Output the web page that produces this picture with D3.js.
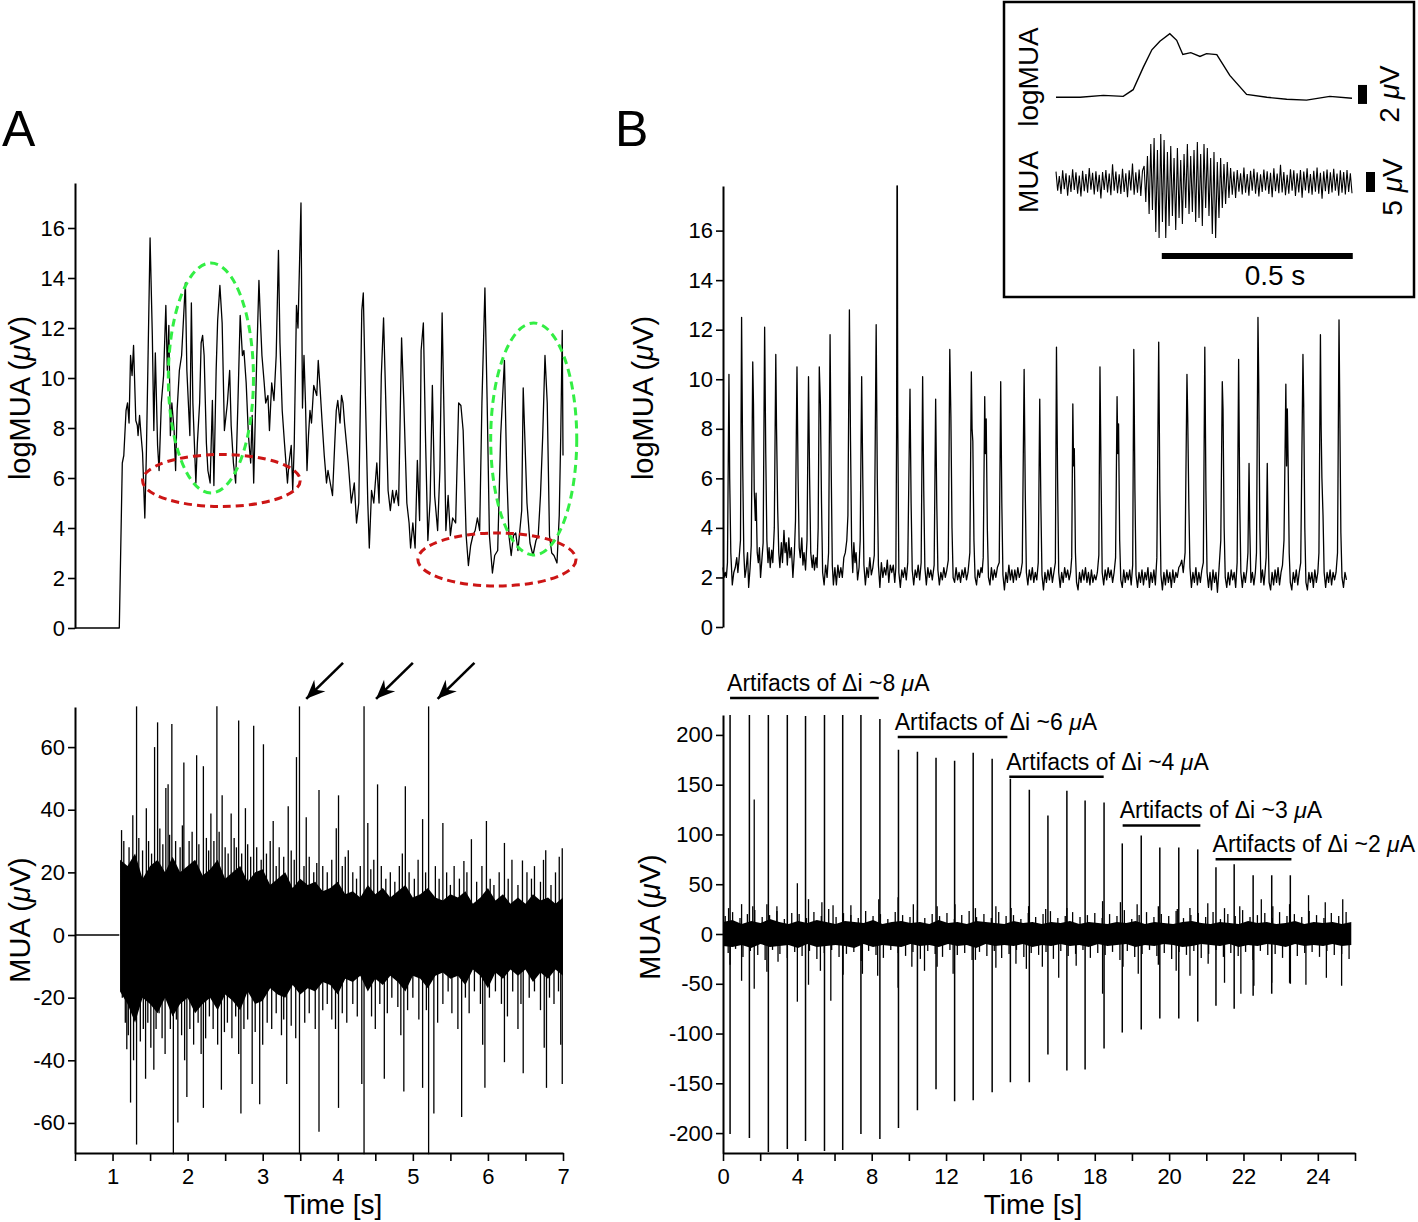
<!DOCTYPE html>
<html>
<head>
<meta charset="utf-8">
<script src="https://cdn.jsdelivr.net/npm/d3@7"></script>
<style>
  body { margin: 0; background: #fff; }
  text { font-family: "Liberation Sans", Arial, Helvetica, sans-serif; fill: #000; }
</style>
</head>
<body>
<svg width="1418" height="1222"></svg>
<script>
// ---------- data ----------

// panel A, logMUA trace [time s, uV]
var aLog = [[0.5,0],[1.09,0],[1.13,6.6],[1.15,6.9],[1.18,8.7],[1.20,9.0],[1.22,8.2],[1.24,10.9],[1.26,10.1],[1.28,11.3],[1.31,8.3],[1.33,8.1],[1.34,7.7],[1.36,8.5],[1.38,7.7],[1.40,7.0],[1.43,4.4],[1.45,6.9],[1.47,10.3],[1.50,15.6],[1.53,11.7],[1.55,7.9],[1.57,11.0],[1.60,7.3],[1.62,6.3],[1.65,9.0],[1.68,10.1],[1.71,12.9],[1.73,10.3],[1.75,12.1],[1.77,7.7],[1.79,9.0],[1.82,7.9],[1.84,6.3],[1.86,8.7],[1.89,10.3],[1.92,10.9],[1.97,13.8],[1.99,10.3],[2.01,9.0],[2.03,7.7],[2.05,13.0],[2.07,9.0],[2.11,5.8],[2.13,7.4],[2.16,9.0],[2.18,11.4],[2.20,11.7],[2.22,10.9],[2.25,7.4],[2.27,6.3],[2.30,5.8],[2.33,9.1],[2.35,5.7],[2.38,10.3],[2.40,12.3],[2.43,13.7],[2.46,12.2],[2.49,7.9],[2.53,9.0],[2.56,10.3],[2.58,8.1],[2.61,6.6],[2.64,5.8],[2.67,9.0],[2.70,12.5],[2.73,10.9],[2.75,11.1],[2.78,9.8],[2.81,7.7],[2.84,6.6],[2.86,8.5],[2.88,5.8],[2.92,10.7],[2.95,13.9],[2.97,12.3],[2.99,10.9],[3.02,9.8],[3.04,9.0],[3.07,9.3],[3.09,7.9],[3.12,9.8],[3.15,9.1],[3.18,10.9],[3.21,15.1],[3.23,11.4],[3.26,8.7],[3.29,7.4],[3.33,5.8],[3.35,6.6],[3.38,7.3],[3.40,5.5],[3.42,7.3],[3.45,12.9],[3.47,12.0],[3.51,17.0],[3.53,8.8],[3.55,10.9],[3.57,9.0],[3.59,6.3],[3.61,7.7],[3.63,8.7],[3.65,8.2],[3.68,9.7],[3.72,9.3],[3.74,10.7],[3.76,9.8],[3.79,8.3],[3.82,6.9],[3.85,5.8],[3.87,6.3],[3.90,5.8],[3.93,5.3],[3.96,7.4],[3.98,8.7],[4.00,9.1],[4.03,8.2],[4.05,9.3],[4.07,9.0],[4.09,8.2],[4.14,6.6],[4.18,5.0],[4.22,5.8],[4.25,4.2],[4.28,5.0],[4.32,12.7],[4.34,13.4],[4.37,9.0],[4.40,5.0],[4.42,3.2],[4.45,5.5],[4.48,5.0],[4.52,6.6],[4.55,5.0],[4.58,10.1],[4.61,12.4],[4.64,9.0],[4.67,5.5],[4.70,4.7],[4.73,5.5],[4.75,5.0],[4.78,5.5],[4.81,4.9],[4.85,11.6],[4.88,9.0],[4.92,5.0],[4.95,4.2],[4.97,3.2],[5.00,4.2],[5.03,3.2],[5.06,6.7],[5.09,4.3],[5.11,11.1],[5.14,12.2],[5.17,7.4],[5.20,3.5],[5.23,5.1],[5.26,9.7],[5.29,5.3],[5.33,3.9],[5.36,6.3],[5.39,12.6],[5.42,7.7],[5.44,3.9],[5.47,5.3],[5.50,3.7],[5.53,4.4],[5.57,4.2],[5.61,9.0],[5.64,8.9],[5.67,7.9],[5.71,3.7],[5.74,2.5],[5.77,3.3],[5.80,3.7],[5.83,3.9],[5.86,4.4],[5.89,3.9],[5.92,9.0],[5.96,13.6],[5.99,9.0],[6.02,3.7],[6.06,2.2],[6.09,2.9],[6.13,3.1],[6.17,7.7],[6.22,10.7],[6.25,6.3],[6.28,3.7],[6.31,2.9],[6.34,3.7],[6.37,3.8],[6.40,3.1],[6.45,4.7],[6.47,9.6],[6.52,5.0],[6.56,3.4],[6.60,2.9],[6.64,3.5],[6.67,3.7],[6.70,5.3],[6.73,7.7],[6.76,10.9],[6.79,9.0],[6.82,3.7],[6.85,3.0],[6.88,2.9],[6.92,2.6],[6.95,4.5],[6.97,7.7],[6.99,11.9],[7.0,6.9]];

// dashed ellipses on panel A top: centre t, centre v, radius t, radius v
var ellCx = [2.31, 2.45, 6.61, 6.12];
var ellCy = [10.0, 5.9, 7.56, 2.74];
var ellRx = [0.567, 1.05, 0.573, 1.053];
var ellRy = [4.6, 1.04, 4.64, 1.06];
var ellColor = ["#33ee44", "#cc1515", "#33ee44", "#cc1515"];

// panel A, MUA: dense core envelope from 1.1 s every 0.1 s
var aCoreStart = 1.1, aCoreStep = 0.1;
var aCoreHi = [24,22,26,18,22,24,20,25,20,22, 24,19,21,24,18,20,22,17,20,21, 16,18,20,15,18,16,17,14,15,17, 13,14,12,16,13,15,12,14,16,12, 13,15,12,11,13,12,14,10,12,15, 11,13,10,12,10,13,11,12,10,12];
var aCoreLo = [-18,-22,-28,-20,-22,-25,-20,-26,-22,-20, -25,-22,-20,-24,-19,-21,-24,-18,-22,-21, -17,-19,-20,-16,-19,-17,-18,-15,-16,-19, -14,-15,-13,-18,-14,-16,-13,-15,-18,-13, -14,-17,-13,-12,-14,-13,-16,-11,-13,-17, -12,-14,-11,-13,-11,-15,-12,-14,-11,-13];
// panel A, MUA spikes [t, uV]
var aUp = [[1.12,33.5],[1.15,30],[1.22,28],[1.27,38.2],[1.30,25],[1.32,73],[1.35,31],[1.40,27],[1.45,40.5],[1.48,30],[1.52,26],[1.56,60],[1.60,67.9],[1.63,34],[1.67,29],[1.71,46.9],[1.74,48.1],[1.76,32],[1.79,67.4],[1.84,30],[1.90,28],[1.93,35],[1.95,55.1],[2.02,30],[2.06,33],[2.12,57.4],[2.15,29],[2.21,53.9],[2.25,31],[2.28,27],[2.31,38.8],[2.35,30],[2.39,73],[2.42,33],[2.46,44.6],[2.50,28],[2.54,26],[2.58,38.8],[2.62,31],[2.65,28],[2.68,68.5],[2.72,26],[2.77,40.5],[2.80,29],[2.84,25],[2.88,66.8],[2.92,28],[2.98,24],[3.01,60.9],[3.05,26],[3.10,30],[3.14,36.4],[3.18,22],[3.22,28],[3.28,25],[3.34,41.1],[3.38,27],[3.42,24],[3.45,56.8],[3.49,73],[3.55,22],[3.58,37.6],[3.62,25],[3.68,20],[3.72,23],[3.75,46.3],[3.80,22],[3.86,20],[3.92,24],[3.98,34.1],[4.01,44.6],[4.06,22],[4.10,25],[4.14,27.1],[4.20,20],[4.25,18],[4.30,22],[4.35,73],[4.40,35.8],[4.44,21],[4.48,24],[4.53,48.1],[4.58,22],[4.64,18],[4.70,20],[4.76,17],[4.82,22],[4.86,26],[4.90,47.5],[4.95,20],[5.02,18],[5.07,24],[5.13,37.0],[5.17,20],[5.21,73],[5.30,22],[5.35,18],[5.40,35.8],[5.45,20],[5.50,16],[5.55,22],[5.62,18],[5.68,23.6],[5.72,20],[5.78,30.6],[5.85,17],[5.92,22],[5.98,36.4],[6.03,18],[6.08,16],[6.15,20],[6.22,29.4],[6.27,18],[6.32,24],[6.40,16],[6.46,23.8],[6.52,20],[6.58,18],[6.62,22],[6.70,17],[6.74,24],[6.77,27.1],[6.84,16],[6.90,20],[6.95,25],[6.99,27.7]];
var aDown = [[1.13,-20],[1.17,-28],[1.19,-36.5],[1.21,-32],[1.24,-53.5],[1.28,-40],[1.32,-66.9],[1.37,-34],[1.41,-30],[1.44,-45.9],[1.47,-28],[1.51,-36],[1.55,-43],[1.58,-30],[1.62,-25],[1.66,-33],[1.70,-38],[1.77,-30],[1.81,-70],[1.85,-27],[1.87,-59.9],[1.92,-32],[1.96,-40],[1.99,-51.7],[2.03,-30],[2.08,-35],[2.14,-28],[2.18,-38],[2.21,-55.2],[2.24,-33],[2.29,-26],[2.34,-30],[2.40,-35],[2.45,-49.4],[2.49,-31],[2.53,-28],[2.59,-33],[2.64,-26],[2.68,-38],[2.71,-57],[2.75,-30],[2.80,-27],[2.86,-47.6],[2.90,-31],[2.96,-54],[3.00,-35],[3.06,-28],[3.12,-30],[3.18,-25],[3.25,-32],[3.28,-27],[3.32,-47.6],[3.38,-29],[3.44,-33],[3.49,-70],[3.56,-28],[3.62,-25],[3.70,-30],[3.75,-62.8],[3.80,-24],[3.86,-22],[3.92,-27],[3.97,-30],[4.01,-55.2],[4.06,-25],[4.12,-28],[4.20,-22],[4.26,-26],[4.32,-47.6],[4.35,-70],[4.45,-26],[4.50,-30],[4.56,-22],[4.62,-45.9],[4.66,-25],[4.72,-20],[4.80,-23],[4.84,-32],[4.88,-50],[4.93,-24],[5.00,-20],[5.08,-27],[5.13,-48.8],[5.18,-24],[5.21,-70],[5.28,-57],[5.33,-28],[5.40,-22],[5.47,-18],[5.52,-25],[5.60,-30],[5.65,-58.1],[5.70,-20],[5.75,-25],[5.82,-18],[5.90,-22],[5.93,-35],[5.96,-48.8],[6.02,-20],[6.10,-18],[6.18,-22],[6.22,-40.6],[6.26,-26],[6.33,-18],[6.40,-30],[6.44,-22],[6.47,-44.1],[6.55,-20],[6.62,-18],[6.70,-24],[6.75,-36],[6.78,-48.8],[6.82,-20],[6.88,-22],[6.94,-18],[6.97,-35],[6.99,-47.6]];
var arrowTipT = [3.58, 4.51, 5.33];

// panel A axes
var aTicks = [0.5,1,1.5,2,2.5,3,3.5,4,4.5,5,5.5,6,6.5,7];
var aLogTicks = [0,2,4,6,8,10,12,14,16];
var aMuaTicks = [-60,-40,-20,0,20,40,60];

// panel B, logMUA trace [x position in axis ticks, uV]
var bLog = [[0.0,2.4],[0.03,2.0],[0.06,2.2],[0.09,2.0],[0.12,2.6],[0.16,10.2],[0.18,6.0],[0.21,3.0],[0.25,1.7],[0.29,2.2],[0.33,2.4],[0.37,2.8],[0.40,2.2],[0.43,2.7],[0.47,3.5],[0.50,12.5],[0.53,6.5],[0.56,3.0],[0.59,2.0],[0.62,2.3],[0.66,3.0],[0.69,1.6],[0.73,2.4],[0.76,3.3],[0.80,10.7],[0.82,9.0],[0.84,5.5],[0.87,4.3],[0.89,5.4],[0.92,3.0],[0.95,2.6],[0.98,3.2],[1.01,2.0],[1.05,2.8],[1.08,3.4],[1.12,12.1],[1.15,7.0],[1.18,3.5],[1.21,2.6],[1.24,3.2],[1.27,2.4],[1.31,3.1],[1.34,2.6],[1.38,4.0],[1.42,11.0],[1.44,8.0],[1.47,4.8],[1.50,3.0],[1.53,2.4],[1.57,3.4],[1.60,2.6],[1.64,3.9],[1.67,3.0],[1.70,3.4],[1.73,2.5],[1.77,3.6],[1.80,2.8],[1.84,3.2],[1.88,2.0],[1.92,3.0],[1.95,4.3],[1.99,10.5],[2.02,6.0],[2.05,3.2],[2.08,2.8],[2.12,3.6],[2.15,2.5],[2.18,3.0],[2.22,2.3],[2.26,3.5],[2.30,10.1],[2.33,6.0],[2.36,3.0],[2.40,2.4],[2.43,2.9],[2.46,2.3],[2.50,2.8],[2.53,2.4],[2.56,4.0],[2.59,10.5],[2.62,9.0],[2.65,5.0],[2.68,2.2],[2.72,1.7],[2.76,2.5],[2.80,2.0],[2.84,3.0],[2.88,11.8],[2.91,6.5],[2.94,2.5],[2.97,1.7],[3.01,2.4],[3.05,1.7],[3.09,2.5],[3.13,2.0],[3.17,2.4],[3.21,2.0],[3.25,2.8],[3.29,3.0],[3.33,3.5],[3.36,4.5],[3.40,12.8],[3.43,7.5],[3.46,3.3],[3.49,2.2],[3.52,3.4],[3.55,2.6],[3.58,3.0],[3.62,1.9],[3.66,2.4],[3.69,3.5],[3.73,10.1],[3.76,6.0],[3.79,2.5],[3.83,1.7],[3.87,2.4],[3.91,2.0],[3.95,2.8],[3.99,2.1],[4.03,2.4],[4.07,2.9],[4.12,12.2],[4.15,6.0],[4.18,2.5],[4.22,1.6],[4.26,2.6],[4.30,2.0],[4.34,2.4],[4.38,2.1],[4.42,2.7],[4.46,1.8],[4.50,2.5],[4.54,2.2],[4.58,2.5],[4.62,1.8],[4.65,2.4],[4.67,8.0],[4.68,17.8],[4.69,17.8],[4.70,8.5],[4.73,2.2],[4.77,1.6],[4.81,2.3],[4.85,2.0],[4.89,2.4],[4.93,1.9],[4.97,2.6],[5.03,9.6],[5.06,5.0],[5.09,2.3],[5.13,1.7],[5.17,2.3],[5.21,2.0],[5.25,2.5],[5.29,1.9],[5.33,2.6],[5.37,10.1],[5.40,5.5],[5.43,2.4],[5.47,1.7],[5.51,2.4],[5.55,2.0],[5.59,2.3],[5.63,1.9],[5.68,2.5],[5.72,9.2],[5.75,5.0],[5.78,2.3],[5.82,1.7],[5.86,2.2],[5.90,1.9],[5.94,2.4],[5.98,2.0],[6.02,2.3],[6.06,2.7],[6.10,11.2],[6.13,8.5],[6.16,4.0],[6.19,2.0],[6.23,1.8],[6.27,2.4],[6.31,1.9],[6.35,2.2],[6.39,1.8],[6.43,2.3],[6.47,2.0],[6.51,2.4],[6.55,1.9],[6.59,2.2],[6.64,3.0],[6.68,10.3],[6.70,8.0],[6.72,7.5],[6.75,3.5],[6.78,2.0],[6.82,1.7],[6.86,2.3],[6.90,2.0],[6.94,2.4],[6.97,2.2],[7.00,2.8],[7.04,9.3],[7.06,7.0],[7.08,8.4],[7.11,4.0],[7.14,2.0],[7.18,1.7],[7.22,2.4],[7.26,1.9],[7.30,2.3],[7.34,2.0],[7.38,2.4],[7.43,2.6],[7.47,9.9],[7.50,5.0],[7.53,2.1],[7.57,1.5],[7.61,2.2],[7.65,1.8],[7.69,2.5],[7.73,1.9],[7.77,2.3],[7.81,1.8],[7.85,2.3],[7.89,1.9],[7.93,2.4],[7.97,2.0],[8.01,2.2],[8.05,2.6],[8.10,10.4],[8.13,5.5],[8.16,2.2],[8.20,1.7],[8.24,2.3],[8.28,1.9],[8.32,2.4],[8.36,1.8],[8.40,2.2],[8.44,1.9],[8.48,2.6],[8.52,9.2],[8.55,5.0],[8.58,2.1],[8.62,1.5],[8.66,2.2],[8.70,1.8],[8.74,2.3],[8.78,1.9],[8.82,2.4],[8.86,1.8],[8.90,2.2],[8.94,2.6],[8.97,11.3],[9.00,6.0],[9.03,2.2],[9.07,1.6],[9.11,2.2],[9.15,1.8],[9.19,2.4],[9.23,2.0],[9.27,2.3],[9.31,1.9],[9.35,2.2],[9.38,2.8],[9.41,9.0],[9.43,6.5],[9.45,7.2],[9.48,3.0],[9.51,1.8],[9.55,1.5],[9.59,2.2],[9.63,1.8],[9.67,2.3],[9.71,1.9],[9.75,2.4],[9.79,1.8],[9.83,2.2],[9.87,1.7],[9.91,2.3],[9.95,1.8],[9.99,2.1],[10.03,1.9],[10.07,2.2],[10.11,2.9],[10.14,10.5],[10.17,6.0],[10.20,2.2],[10.24,1.7],[10.28,2.3],[10.32,1.9],[10.36,2.4],[10.40,2.0],[10.44,2.3],[10.48,1.8],[10.52,2.2],[10.56,2.8],[10.60,9.3],[10.62,7.0],[10.64,8.2],[10.67,3.5],[10.70,1.9],[10.74,1.6],[10.78,2.3],[10.82,1.8],[10.86,2.2],[10.90,1.9],[10.94,2.3],[10.98,1.7],[11.02,2.5],[11.05,11.2],[11.08,5.5],[11.11,2.1],[11.15,1.6],[11.19,2.2],[11.23,1.8],[11.27,2.3],[11.31,1.7],[11.35,2.2],[11.39,1.9],[11.43,2.4],[11.47,1.6],[11.51,2.2],[11.55,1.8],[11.59,2.3],[11.63,1.7],[11.67,2.8],[11.72,11.5],[11.75,5.5],[11.78,2.1],[11.82,1.5],[11.86,2.2],[11.90,1.7],[11.94,2.3],[11.98,1.8],[12.02,2.2],[12.06,1.6],[12.10,2.3],[12.14,1.8],[12.18,2.2],[12.22,2.0],[12.26,2.4],[12.30,2.5],[12.34,2.7],[12.38,2.2],[12.43,3.0],[12.48,10.2],[12.50,8.5],[12.53,5.0],[12.56,2.4],[12.60,1.6],[12.64,2.2],[12.68,1.8],[12.72,2.4],[12.76,1.7],[12.80,2.2],[12.84,1.8],[12.88,2.3],[12.92,2.6],[12.96,11.3],[12.99,5.5],[13.02,2.2],[13.06,1.6],[13.10,2.2],[13.14,1.5],[13.18,2.3],[13.22,1.8],[13.26,2.2],[13.30,1.4],[13.34,2.3],[13.39,3.5],[13.43,9.9],[13.45,8.8],[13.48,4.0],[13.51,2.0],[13.55,1.6],[13.59,2.2],[13.63,1.7],[13.67,2.3],[13.71,1.9],[13.75,2.2],[13.79,1.6],[13.83,2.6],[13.87,10.8],[13.90,5.0],[13.93,2.2],[13.97,1.6],[14.01,2.2],[14.05,1.8],[14.09,2.3],[14.12,3.0],[14.15,6.6],[14.17,4.0],[14.20,1.8],[14.24,2.2],[14.28,1.7],[14.32,2.2],[14.35,3.0],[14.39,12.5],[14.41,10.0],[14.44,4.0],[14.47,1.8],[14.51,2.3],[14.55,1.7],[14.58,2.2],[14.61,2.8],[14.64,6.6],[14.66,4.0],[14.69,1.8],[14.73,1.5],[14.77,2.2],[14.81,1.7],[14.85,2.3],[14.89,1.8],[14.93,2.4],[14.97,1.7],[15.01,2.2],[15.05,2.5],[15.09,3.5],[15.14,9.8],[15.16,6.5],[15.18,8.8],[15.20,6.8],[15.23,3.0],[15.26,1.8],[15.30,1.5],[15.34,2.2],[15.38,1.8],[15.42,2.3],[15.46,1.7],[15.50,2.2],[15.54,2.6],[15.60,11.0],[15.62,9.0],[15.65,4.0],[15.68,1.8],[15.72,1.5],[15.76,2.2],[15.80,1.8],[15.84,2.2],[15.88,1.6],[15.92,2.3],[15.96,1.8],[16.00,2.2],[16.03,3.0],[16.07,11.8],[16.09,8.0],[16.11,6.0],[16.14,4.5],[16.17,2.2],[16.21,1.6],[16.25,2.2],[16.29,1.8],[16.33,2.3],[16.37,1.7],[16.41,2.2],[16.45,1.9],[16.49,2.2],[16.53,3.0],[16.57,12.4],[16.59,9.0],[16.62,3.8],[16.65,2.0],[16.69,1.6],[16.73,2.2],[16.77,1.9]];

// panel B, MUA: stimulation artifacts [pos, top uV, bottom uV]
var bArtifacts = [[0.19,220,-201],[0.71,220,-205],[1.22,220,-219],[1.73,220,-216],[2.22,219,-208],[2.73,220,-218],[3.22,220,-217],[3.71,220,-201],[4.22,216,-206],[4.72,185,-195],[5.23,183,-177],[5.73,177,-156],[6.23,174,-168],[6.73,182,-167],[7.24,176,-159],[7.73,156,-149],[8.24,145,-149],[8.74,119,-121],[9.25,144,-137],[9.74,134,-136],[10.25,132,-115],[10.74,91,-99],[11.25,99,-96],[11.75,87,-85],[12.26,87,-85],[12.77,85,-88],[13.26,67,-72],[13.75,70,-75],[14.26,59,-62],[14.76,59,-60],[15.26,59,-50]];
var bBurstUp = [[0.15,26],[0.50,30],[0.80,28],[0.84,135],[1.18,30],[1.45,28],[2.00,51],[2.30,35],[2.66,32],[2.96,29],[3.44,29],[4.19,35],[4.71,37],[5.12,30],[5.76,28],[6.24,30],[6.79,26],[7.34,28],[7.75,26],[8.22,28],[8.68,25],[9.25,26],[10.21,33],[10.69,32],[11.14,30],[11.71,28],[12.22,25],[12.56,26],[13.04,31],[13.49,26],[13.90,28],[14.48,35],[14.79,28],[15.24,30],[15.75,39],[16.20,32],[16.67,35]];
var bBurstDown = [[0.19,-31],[0.50,-47],[0.84,-55],[1.18,-38],[1.48,-28],[2.00,-68],[2.30,-51],[2.62,-37],[2.90,-67],[3.23,-41],[3.75,-40],[4.16,-42],[4.71,-54],[5.08,-33],[5.42,-37],[5.76,-33],[6.19,-40],[6.79,-26],[7.34,-34],[7.88,-30],[8.16,-35],[8.59,-33],[9.03,-44],[9.50,-32],[10.21,-60],[10.76,-33],[11.17,-40],[11.71,-31],[12.19,-37],[12.56,-42],[13.05,-30],[13.49,-49],[13.93,-60],[14.28,-52],[14.76,-49],[15.24,-49],[15.68,-51],[16.23,-44],[16.64,-52]];
// dense core of panel B MUA, sampled evenly over the record
var bCoreEnd = 16.9;
var bCoreHi = [12,14,10,13,11,15,12,10,13,11, 14,12,10,13,12,11,14,10,12,13, 11,12,10,14,11,12,10,13,12,11, 10,13,11,12,10,12,11,13,10,12, 11,10,12,11,13,10,12,11,10,12, 13,11,10,12,11,10,13,11,12,10, 11,13,10,12,11,12,10,12];
var bCoreLo = [-12,-13,-11,-14,-10,-13,-12,-11,-14,-10, -13,-12,-11,-12,-14,-10,-13,-11,-12,-13, -10,-12,-11,-13,-10,-12,-11,-14,-10,-12, -11,-12,-10,-13,-11,-12,-10,-12,-11,-13, -10,-12,-11,-10,-13,-11,-12,-10,-11,-13, -12,-10,-11,-12,-10,-13,-11,-12,-10,-11, -13,-10,-12,-11,-12,-10,-12,-11];
// small noise excursions above / below the core, sampled evenly
var bNoiseUp = [18,22,16,20,24,17,19,23,15,21, 20,16,22,18,25,17,21,19,16,23, 18,20,15,22,19,17,24,16,20,18, 21,15,19,23,17,20,16,22,18,19, 15,21,17,20,23,16,18,22,17,19, 21,16,20,18,24,15,19,22,17,20, 18,23,16,19,21,17,22,15,20,18, 24,17,19,21,16,22,18,20,17,23, 19,16,21,18,22];
var bNoiseDown = [-19,-15,-23,-17,-21,-26,-16,-20,-24,-18, -22,-17,-25,-19,-16,-23,-20,-18,-27,-17, -21,-24,-16,-19,-22,-18,-25,-17,-20,-23, -16,-21,-19,-26,-18,-22,-17,-24,-20,-16, -23,-19,-21,-18,-25,-17,-22,-20,-16,-24, -19,-21,-18,-26,-17,-23,-20,-16,-22,-19, -25,-18,-21,-17,-24,-20,-16,-23,-19,-22, -18,-26,-17,-21,-20,-24,-16,-22,-19,-18, -23,-17,-21,-20,-25];

// artifact groups
var groupLabels = ["~8", "~6", "~4", "~3", "~2"];
var groupStart = [0.19, 4.70, 7.70, 10.75, 13.25];
var groupEnd = [4.19, 7.65, 10.24, 12.84, 15.29];
var groupLevel = [237, 198, 158, 109, 75];

// panel B axes
var bTickPos = [0,1,2,3,4,5,6,7,8,9,10,11,12,13,14,15,16,17];
var bTickLabels = ["0","4","8","12","16","18","20","22","24"];
var bLogTicks = [0,2,4,6,8,10,12,14,16];
var bMuaTicks = [-200,-150,-100,-50,0,50,100,150,200];

// inset: logMUA [s, uV] and MUA samples (uV, even sampling)
var insetLog = [[0,2.0],[0.063,2.0],[0.124,2.2],[0.176,2.1],[0.202,2.8],[0.229,5.2],[0.251,7.0],[0.272,7.9],[0.298,8.7],[0.316,8.0],[0.332,6.5],[0.353,6.7],[0.377,6.3],[0.394,6.6],[0.421,6.5],[0.455,4.3],[0.499,2.3],[0.552,2.0],[0.604,1.8],[0.656,1.7],[0.717,2.1],[0.775,1.9]];
var insetDur = 0.775;
var insetMua = [2.6,-2.2,1.5,-3.0,2.9,-1.8,2.2,-3.4,1.7,-2.5,3.2,-2.0,2.4,-2.9,1.6,-3.6,2.8,-2.3,2.0,-2.7,3.5,-1.9,2.3,-3.1,2.7,-2.4,1.8,-4.1,2.5,-2.0,3.0,-2.6,2.1,-3.3,4.4,-2.2,2.6,-2.8,1.9,-3.0,3.3,-2.5,2.2,-3.8,2.9,-2.1,4.6,-3.2,2.4,-2.7,3.1,-3.5,2.8,
  4.0,-5.0,6.5,-8.0,9.5,-7.0,11.0,-12.5,8.0,-14.0,12.0,-10.0,10.5,-14.0,7.5,-11.0,9.0,-8.5,6.0,-12.0,8.5,-9.0,5.5,-10.5,7.0,-6.5,9.5,-8.0,6.5,-7.5,8.0,-10.0,10.0,-9.0,7.0,-11.0,9.5,-6.5,8.5,-8.5,6.0,-13.0,7.5,-14.0,5.0,-9.0,6.0,-6.5,4.5,-5.5,5.0,-4.0,
  3.5,-3.2,2.6,-4.0,3.0,-2.4,2.2,-3.1,3.6,-2.7,2.0,-3.4,2.8,-2.2,3.3,-2.9,2.4,-3.6,1.9,-2.5,3.1,-2.1,2.7,-3.0,2.3,-3.8,3.4,-2.3,2.1,-2.8,4.3,-2.6,2.5,-3.3,1.8,-2.9,3.2,-2.2,2.9,-3.5,2.2,-2.6,3.0,-3.9,2.6,-2.1,3.4,-2.8,2.0,-3.2,2.8,-2.4,3.6,-2.9,2.3,-4.2,2.7,-2.3,3.1,-3.0,2.4,-2.6,3.3,-2.2,2.1,-3.4,2.9,-2.7,2.5,-3.1,3.0,-2.5,2.2,-2.8];

// ---------- layout ----------
var svg = d3.select("svg");
var font = "'Liberation Sans', Arial, Helvetica, sans-serif";

var xA = d3.scaleLinear().domain([0.5, 7]).range([75, 563]);
var yAtop = d3.scaleLinear().domain([0, 17.8]).range([628, 183]);
var yAbot = d3.scaleLinear().domain([-69.6, 72.8]).range([1153, 707]);
var xB = d3.scaleLinear().domain([0, 17]).range([723, 1355]);
var yBtop = d3.scaleLinear().domain([0, 17.8]).range([627, 186]);
var yBbot = d3.scaleLinear().domain([-220, 220]).range([1153, 715]);

function styleAxis(g){
  g.attr("font-size", 22).attr("font-family", font);
  g.select(".domain").attr("stroke-width", 2);
  g.selectAll(".tick line").attr("stroke-width", 1.6);
  g.selectAll(".tick text").attr("fill", "#000");
}

function yTitle(x, y, label){
  var t = svg.append("text")
    .attr("transform", "translate(" + x + "," + y + ") rotate(-90)")
    .attr("text-anchor", "middle")
    .style("font-size", "29px");
  t.append("tspan").text(label + " (");
  t.append("tspan").style("font-style", "italic").text("\u03bc");
  t.append("tspan").text("V)");
}

function spikes(g, data, x, y){
  g.append("g").selectAll("line")
    .data(data)
    .join("line")
      .attr("x1", d => x(d[0])).attr("x2", d => x(d[0]))
      .attr("y1", y(0)).attr("y2", d => y(d[1]))
      .attr("stroke", "#000").attr("stroke-width", 1.3);
}

// panel letters
svg.append("text").attr("x", 2).attr("y", 146).style("font-size", "50px").text("A");
svg.append("text").attr("x", 615).attr("y", 146).style("font-size", "50px").text("B");

// ----- panel A top -----
svg.append("g")
    .attr("transform", "translate(75,0)")
    .call(d3.axisLeft(yAtop).tickValues(aLogTicks).tickSize(7).tickSizeOuter(0).tickPadding(3))
    .call(styleAxis);

svg.append("path")
    .datum(aLog)
    .attr("fill", "none")
    .attr("stroke", "#000")
    .attr("stroke-width", 1.3)
    .attr("stroke-linejoin", "round")
    .attr("d", d3.line().x(d => xA(d[0])).y(d => yAtop(d[1])));

svg.append("g").selectAll("ellipse")
  .data(ellCx)
  .join("ellipse")
    .attr("cx", d => xA(d))
    .attr("cy", (d, i) => yAtop(ellCy[i]))
    .attr("rx", (d, i) => xA(ellCx[i] + ellRx[i]) - xA(ellCx[i]))
    .attr("ry", (d, i) => yAtop(ellCy[i] - ellRy[i]) - yAtop(ellCy[i]))
    .attr("fill", "none")
    .attr("stroke", (d, i) => ellColor[i])
    .attr("stroke-width", 3)
    .attr("stroke-dasharray", "8,5");

yTitle(30, 398, "logMUA");

// ----- panel A bottom -----
svg.append("g")
    .attr("transform", "translate(75,0)")
    .call(d3.axisLeft(yAbot).tickValues(aMuaTicks).tickSize(7).tickSizeOuter(0).tickPadding(3).tickFormat(d => String(d)))
    .call(styleAxis);

svg.append("g")
    .attr("transform", "translate(0,1153)")
    .call(d3.axisBottom(xA).tickValues(aTicks).tickSize(8).tickSizeOuter(0).tickPadding(7)
            .tickFormat(d => Number.isInteger(d) ? String(d) : ""))
    .call(styleAxis);

var aMua = svg.append("g");
aMua.append("line")
    .attr("x1", xA(0.5)).attr("x2", xA(1.09))
    .attr("y1", yAbot(0)).attr("y2", yAbot(0))
    .attr("stroke", "#000").attr("stroke-width", 1.3);

aMua.append("path")
    .datum(aCoreHi.map((v, i) => [aCoreStart + i * aCoreStep, v, aCoreLo[i]]))
    .attr("fill", "#000")
    .attr("d", d3.area().x(d => xA(d[0])).y0(d => yAbot(d[2])).y1(d => yAbot(d[1])));

spikes(aMua, aUp, xA, yAbot);
spikes(aMua, aDown, xA, yAbot);

// arrows
var defs = svg.append("defs");
defs.append("marker")
    .attr("id", "head")
    .attr("markerUnits", "userSpaceOnUse")
    .attr("viewBox", "-20 -10 22 20")
    .attr("refX", 0).attr("refY", 0)
    .attr("markerWidth", 22).attr("markerHeight", 20)
    .attr("orient", "auto")
  .append("path")
    .attr("d", "M0,0 L-19,-8 L-13,0 L-19,8 Z")
    .attr("fill", "#000");

svg.append("g").selectAll("line")
  .data(arrowTipT)
  .join("line")
    .attr("x1", d => xA(d + 0.49)).attr("y1", yAbot(86.9))
    .attr("x2", d => xA(d)).attr("y2", yAbot(75.4))
    .attr("stroke", "#000").attr("stroke-width", 2.6)
    .attr("marker-end", "url(#head)");

yTitle(30, 920, "MUA");
svg.append("text").attr("x", 333).attr("y", 1214).attr("text-anchor", "middle")
    .style("font-size", "28px").text("Time [s]");

// ----- panel B top -----
svg.append("g")
    .attr("transform", "translate(723,0)")
    .call(d3.axisLeft(yBtop).tickValues(bLogTicks).tickSize(7).tickSizeOuter(0).tickPadding(3))
    .call(styleAxis);

svg.append("path")
    .datum(bLog)
    .attr("fill", "none")
    .attr("stroke", "#000")
    .attr("stroke-width", 1.3)
    .attr("stroke-linejoin", "round")
    .attr("d", d3.line().x(d => xB(d[0])).y(d => yBtop(d[1])));

yTitle(653, 398, "logMUA");

// ----- panel B bottom -----
svg.append("g")
    .attr("transform", "translate(723,0)")
    .call(d3.axisLeft(yBbot).tickValues(bMuaTicks).tickSize(7).tickSizeOuter(0).tickPadding(3).tickFormat(d => String(d)))
    .call(styleAxis);

svg.append("g")
    .attr("transform", "translate(0,1153)")
    .call(d3.axisBottom(xB).tickValues(bTickPos).tickSize(8).tickSizeOuter(0).tickPadding(7)
            .tickFormat(d => d % 2 === 0 ? bTickLabels[d / 2] : ""))
    .call(styleAxis);

var bMua = svg.append("g");
var bStep = bCoreEnd / (bCoreHi.length - 1);
bMua.append("path")
    .datum(bCoreHi.map((v, i) => [i * bStep, v, bCoreLo[i]]))
    .attr("fill", "#000")
    .attr("d", d3.area().x(d => xB(d[0])).y0(d => yBbot(d[2])).y1(d => yBbot(d[1])));

var nStep = bCoreEnd / bNoiseUp.length;
spikes(bMua, bNoiseUp.map((v, i) => [(i + 0.3) * nStep, v]), xB, yBbot);
spikes(bMua, bNoiseDown.map((v, i) => [(i + 0.7) * nStep, v]), xB, yBbot);
spikes(bMua, bBurstUp, xB, yBbot);
spikes(bMua, bBurstDown, xB, yBbot);

bMua.append("g").selectAll("line")
  .data(bArtifacts)
  .join("line")
    .attr("x1", d => xB(d[0])).attr("x2", d => xB(d[0]))
    .attr("y1", d => yBbot(d[2])).attr("y2", d => yBbot(d[1]))
    .attr("stroke", "#000").attr("stroke-width", 1.5);

// artifact group brackets and labels
var groups = svg.append("g");
groups.selectAll("line")
  .data(groupLabels)
  .join("line")
    .attr("x1", (d, i) => xB(groupStart[i])).attr("x2", (d, i) => xB(groupEnd[i]))
    .attr("y1", (d, i) => yBbot(groupLevel[i])).attr("y2", (d, i) => yBbot(groupLevel[i]))
    .attr("stroke", "#000").attr("stroke-width", 2.5);

groups.selectAll("text")
  .data(groupLabels)
  .join("text")
    .attr("x", (d, i) => xB(groupStart[i]) - 3)
    .attr("y", (d, i) => yBbot(groupLevel[i]) - 7)
    .style("font-size", "23px")
    .each(function(d){
      var t = d3.select(this);
      t.append("tspan").text("Artifacts of \u0394i " + d + " ");
      t.append("tspan").style("font-style", "italic").text("\u03bc");
      t.append("tspan").text("A");
    });

yTitle(660, 917, "MUA");
svg.append("text").attr("x", 1033).attr("y", 1214).attr("text-anchor", "middle")
    .style("font-size", "28px").text("Time [s]");

// ----- inset -----
var xI = d3.scaleLinear().domain([0, insetDur]).range([1056, 1352]);
var yIlog = d3.scaleLinear().domain([0, 10]).range([116.3, 21.3]);
var yImua = d3.scaleLinear().domain([-15, 15]).range([242, 122]);

svg.append("rect")
    .attr("x", 1004).attr("y", 2).attr("width", 410).attr("height", 295)
    .attr("fill", "#fff").attr("stroke", "#000").attr("stroke-width", 2.5);

svg.append("path")
    .datum(insetLog)
    .attr("fill", "none").attr("stroke", "#000").attr("stroke-width", 1.4)
    .attr("d", d3.line().x(d => xI(d[0])).y(d => yIlog(d[1])));

var iStep = insetDur / (insetMua.length - 1);
svg.append("path")
    .datum(insetMua)
    .attr("fill", "none").attr("stroke", "#000").attr("stroke-width", 1.1)
    .attr("d", d3.line().x((d, i) => xI(i * iStep)).y(d => yImua(d)));

// scale bars
svg.append("rect")
    .attr("x", 1358).attr("width", 9)
    .attr("y", yIlog(3.3)).attr("height", yIlog(1.3) - yIlog(3.3));
svg.append("rect")
    .attr("x", 1366).attr("width", 9)
    .attr("y", yImua(2.5)).attr("height", yImua(-2.5) - yImua(2.5));
svg.append("rect")
    .attr("x", xI(0.277)).attr("width", xI(0.777) - xI(0.277))
    .attr("y", 253).attr("height", 6);

function rotLabel(x, y, parts){
  var t = svg.append("text")
    .attr("transform", "translate(" + x + "," + y + ") rotate(-90)")
    .attr("text-anchor", "middle")
    .style("font-size", "28px");
  parts.forEach(p => t.append("tspan").style("font-style", p[1] ? "italic" : "normal").text(p[0]));
}
rotLabel(1038, 77, [["logMUA", false]]);
rotLabel(1038, 182, [["MUA", false]]);
rotLabel(1399, 94, [["2 ", false], ["\u03bc", true], ["V", false]]);
rotLabel(1402, 187, [["5 ", false], ["\u03bc", true], ["V", false]]);
svg.append("text").attr("x", 1275).attr("y", 285).attr("text-anchor", "middle")
    .style("font-size", "28px").text("0.5 s");
</script>
</body>
</html>
